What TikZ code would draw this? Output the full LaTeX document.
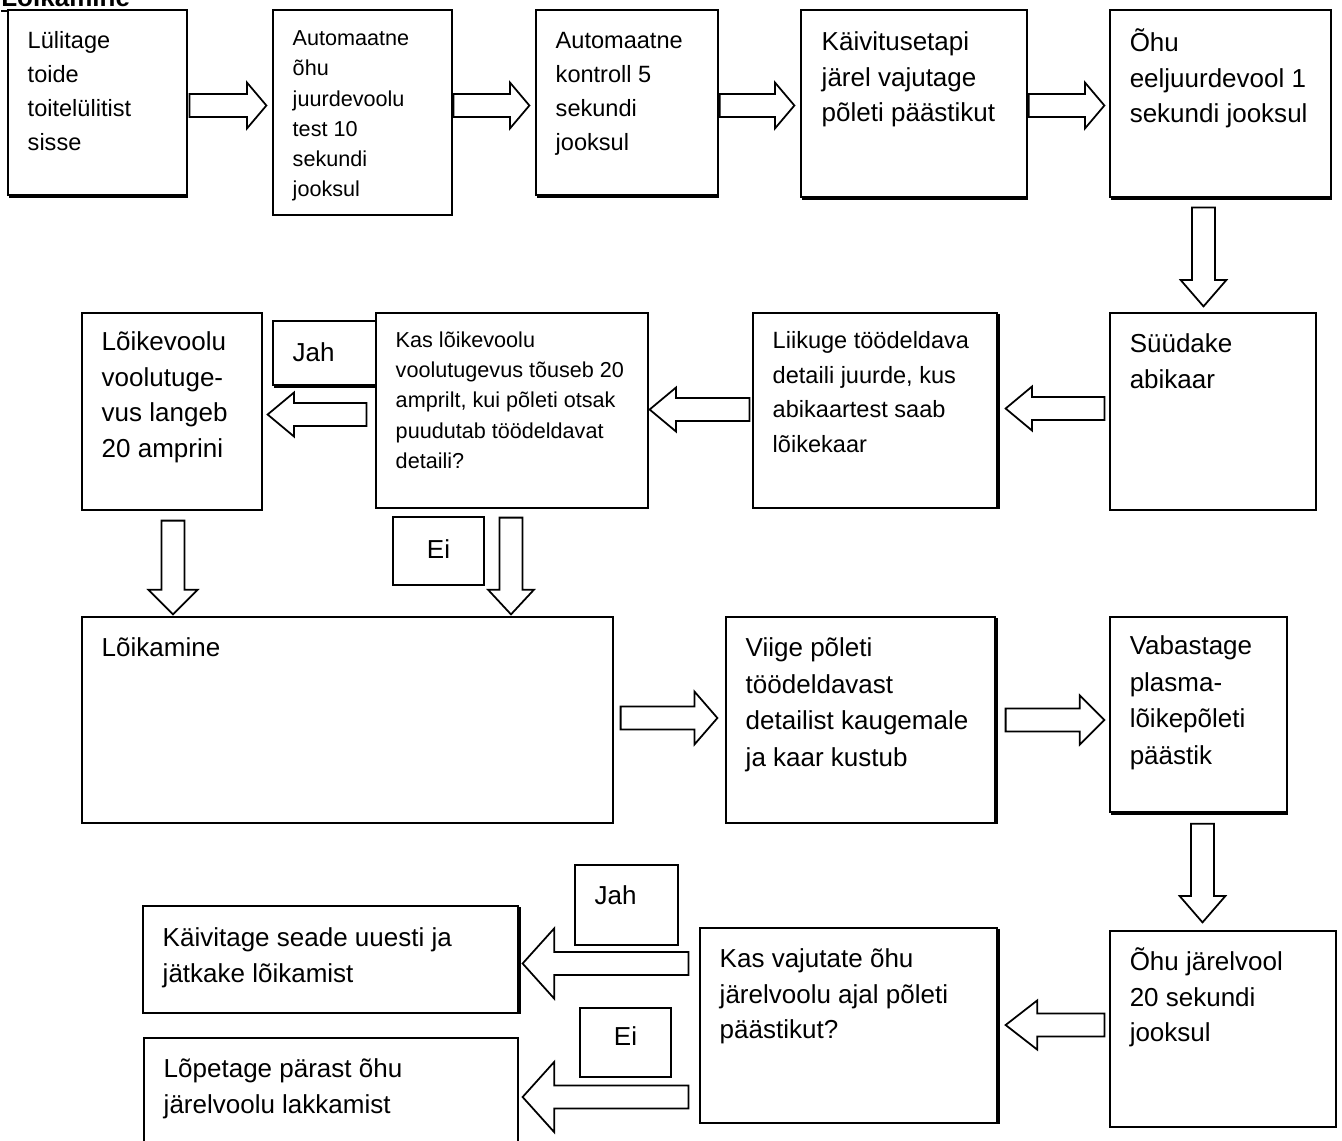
\documentclass[tikz,border=0pt]{standalone}
\usepackage{fontspec}
\setmainfont{Liberation Sans}
\usetikzlibrary{calc,fit,shadows}

\newcommand{\fbig}{\fontsize{14.8}{20.3}\selectfont}
\newcommand{\fbigx}{\fontsize{14.8}{20.8}\selectfont}
\newcommand{\fmid}{\fontsize{13.4}{19.2}\selectfont}
\newcommand{\fsml}{\fontsize{12.3}{17.2}\selectfont}

% hollow block arrow: start, end, head half width, head length
\newcommand{\fatarrow}[4]{%
  \draw[fat] let \p1=#1, \p2=#2, \n1={atan2(\y2-\y1,\x2-\x1)} in
    ($(\p1)+(\n1+90:6.6pt)$) -- ($(\p2)+(\n1+180:#4)+(\n1+90:6.6pt)$)
    -- ($(\p2)+(\n1+180:#4)+(\n1+90:#3)$) -- (\p2)
    -- ($(\p2)+(\n1+180:#4)+(\n1-90:#3)$) -- ($(\p2)+(\n1+180:#4)+(\n1-90:6.6pt)$)
    -- ($(\p1)+(\n1-90:6.6pt)$) -- cycle;
}

\tikzset{
  box/.style={draw, line width=0.7pt, fill=white, inner sep=0pt},
  dropS/.style={drop shadow={shadow xshift=0.6pt, shadow yshift=-1.8pt, opacity=1, fill=black}},
  dropE/.style={drop shadow={shadow xshift=1.8pt, shadow yshift=-0.6pt, opacity=1, fill=black}},
  txt/.style={anchor=north west, inner sep=0pt, align=left, font=\fbig},
  fat/.style={line width=1pt, fill=white, line join=miter}
}

\begin{document}
\begin{tikzpicture}[x=0.02cm, y=-0.02cm]
    \useasboundingbox (0,0) rectangle (1342,1140);

    \node[anchor=base west, inner sep=0pt, font=\bfseries\fbig] (title) at (1,6) {Lõikamine};
    \draw[line width=1.2pt] ([yshift=-2.6pt]title.base west) -- ([yshift=-2.6pt]title.base east);

    % first row
    \node[box, dropS, fit={(8,10) (187,195)}] (b1) {};
    \node[txt, font=\fmid] (t1) at ($(b1.north west)+(20,22)$) {Lülitage\\toide\\toitelülitist\\sisse};
    \node[box, fit={(273,10) (452,215)}] (b2) {};
    \node[txt, font=\fsml] (t2) at ($(b2.north west)+(20,21)$) {Automaatne\\õhu\\juurdevoolu\\test 10\\sekundi\\jooksul};
    \node[box, dropS, fit={(536,10) (718,195)}] (b3) {};
    \node[txt, font=\fmid] (t3) at ($(b3.north west)+(20,23)$) {Automaatne\\kontroll 5\\sekundi\\jooksul};
    \node[box, dropS, fit={(801,10) (1027,197)}] (b4) {};
    \node[txt] (t4) at ($(b4.north west)+(21,22)$) {Käivitusetapi\\järel vajutage\\põleti päästikut};
    \node[box, dropS, fit={(1110,10) (1331,197)}] (b5) {};
    \node[txt] (t5) at ($(b5.north west)+(20,19)$) {Õhu\\eeljuurdevool 1\\sekundi jooksul};

    % second row
    \node[box, fit={(1110,313) (1316,510)}] (b6) {};
    \node[txt] (t6) at ($(b6.north west)+(20,21)$) {Süüdake\\abikaar};
    \node[box, dropE, fit={(753,313) (997,508)}] (b7) {};
    \node[txt, font=\fontsize{13.4}{19.6}\selectfont] (t7) at ($(b7.north west)+(20,19)$) {Liikuge töödeldava\\detaili juurde, kus\\abikaartest saab\\lõikekaar};
    \node[box, dropS, fit={(273,321) (376,385)}] (j1) {};
    \node[txt] (tj1) at ($(j1.north west)+(20,22)$) {Jah};
    \node[box, fit={(376,313) (648,508)}] (b8) {};
    \node[txt, font=\fsml] (t8) at ($(b8.north west)+(20,19)$) {Kas lõikevoolu\\voolutugevus tõuseb 20\\amprilt, kui põleti otsak\\puudutab töödeldavat\\detaili?};
    \node[box, fit={(82,313) (262,510)}] (b9) {};
    \node[txt] (t9) at ($(b9.north west)+(20,19)$) {Lõikevoolu\\voolutuge-\\vus langeb\\20 amprini};
    \node[box, fit={(393,517) (484,585)}] (e1) {};
    \node[anchor=north, inner sep=0pt, font=\fbig] (te1) at ($(e1.north)+(0,23)$) {Ei};

    % third row
    \node[box, fit={(82,617) (613,823)}] (b10) {};
    \node[txt] (t10) at ($(b10.north west)+(20,21)$) {Lõikamine};
    \node[box, dropE, fit={(726,617) (995,823)}] (b11) {};
    \node[txt, font=\fbigx] (t11) at ($(b11.north west)+(20,21)$) {Viige põleti\\töödeldavast\\detailist kaugemale\\ja kaar kustub};
    \node[box, dropS, fit={(1110,617) (1287,812)}] (b12) {};
    \node[txt, font=\fbigx] (t12) at ($(b12.north west)+(20,19)$) {Vabastage\\plasma-\\lõikepõleti\\päästik};

    % fourth row
    \node[box, fit={(1110,931) (1336,1127)}] (b13) {};
    \node[txt] (t13) at ($(b13.north west)+(20,17)$) {Õhu järelvool\\20 sekundi\\jooksul};
    \node[box, dropE, fit={(700,928) (997,1123)}] (b14) {};
    \node[txt] (t14) at ($(b14.north west)+(20,21)$) {Kas vajutate õhu\\järelvoolu ajal põleti\\päästikut?};
    \node[box, fit={(575,865) (678,945)}] (j2) {};
    \node[txt] (tj2) at ($(j2.north west)+(20,21)$) {Jah};
    \node[box, fit={(580,1008) (671,1077)}] (e2) {};
    \node[anchor=north, inner sep=0pt, font=\fbig] (te2) at ($(e2.north)+(0,19)$) {Ei};
    \node[box, dropE, fit={(143,906) (518,1013)}] (b15) {};
    \node[txt] (t15) at ($(b15.north west)+(20,22)$) {Käivitage seade uuesti ja\\jätkake lõikamist};
    \node[box, fit={(144,1038) (518,1158)}] (b16) {};
    \node[txt] (t16) at ($(b16.north west)+(20,21)$) {Lõpetage pärast õhu\\järelvoolu lakkamist};

    % arrows
    \fatarrow{($(b1.east)+(2,3)$)}{($(b1.east -| b2.west)+(-6,3)$)}{13pt}{11pt}
    \fatarrow{($(b2.east |- b1.east)+(1,3)$)}{($(b1.east -| b3.west)+(-6,3)$)}{13pt}{11pt}
    \fatarrow{($(b3.east)+(1,3)$)}{($(b3.east -| b4.west)+(-6,3)$)}{13pt}{11pt}
    \fatarrow{($(b4.east)+(1,2)$)}{($(b4.east -| b5.west)+(-5,2)$)}{13pt}{11pt}
    \fatarrow{($(b5.south)+(-17,10)$)}{($(b5.south |- b6.north)+(-17,-6)$)}{13pt}{15pt}
    \fatarrow{($(b6.west)+(-5,-3)$)}{($(b6.west -| b7.east)+(8,-3)$)}{12.5pt}{15pt}
    \fatarrow{($(b7.west)+(-3,-1)$)}{($(b7.west -| b8.east)+(1,-1)$)}{12.5pt}{15pt}
    \fatarrow{($(b8.west)+(-9,4)$)}{($(b8.west -| b9.east)+(5,4)$)}{12.5pt}{15pt}
    \fatarrow{($(b8.south)+(-1,9)$)}{($(b8.south |- b10.north)+(-1,-2)$)}{13pt}{14pt}
    \fatarrow{($(b9.south)+(1,10)$)}{($(b9.south |- b10.north)+(1,-2)$)}{14pt}{14pt}
    \fatarrow{($(b10.east)+(7,-2)$)}{($(b10.east -| b11.west)+(-8,-2)$)}{15pt}{13pt}
    \fatarrow{($(b11.east)+(10,0)$)}{($(b11.east -| b12.west)+(-5,0)$)}{14pt}{14pt}
    \fatarrow{($(b12.south)+(4,11)$)}{($(b12.south |- b13.north)+(4,-8)$)}{13pt}{15pt}
    \fatarrow{($(b13.west)+(-5,-4)$)}{($(b13.west -| b14.east)+(8,-4)$)}{14pt}{18pt}
    \fatarrow{($(b14.west |- b15.east)+(-11,4)$)}{($(b15.east)+(4,4)$)}{20pt}{18pt}
    \fatarrow{($(b14.west |- b16.east)+(-11,-1)$)}{($(b16.east)+(4,-1)$)}{20pt}{18pt}
\end{tikzpicture}
\end{document}
